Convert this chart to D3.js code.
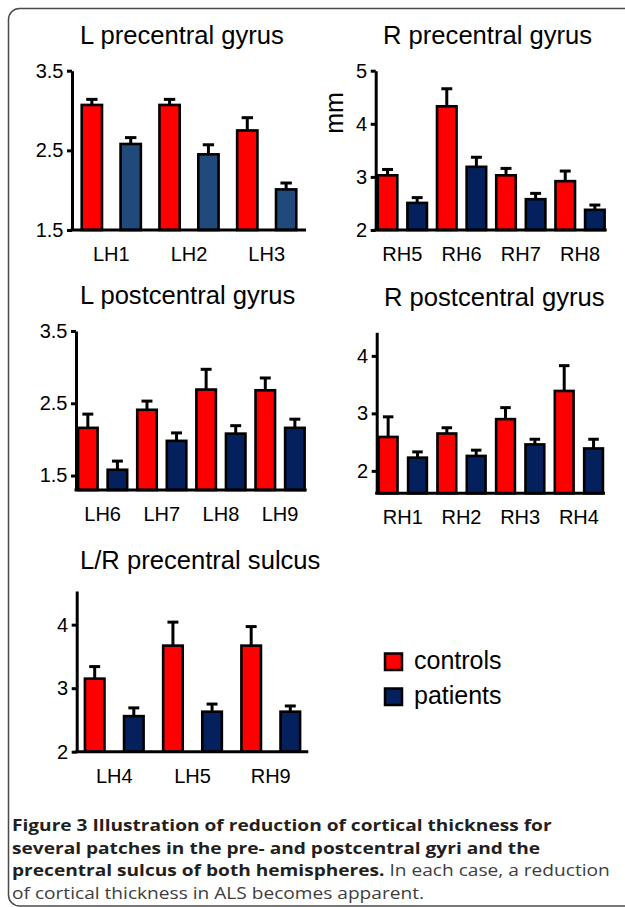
<!DOCTYPE html>
<html><head><meta charset="utf-8">
<script src="https://cdn.jsdelivr.net/npm/d3@7"></script>
<style>body{margin:0;background:#fff}svg{display:block}</style>
</head><body><svg id="c" width="625" height="907"></svg>
<script>
// ---------- data ----------
const lpreGroups = ["LH1","LH2","LH3"];
const lpreControls = [3.07,3.07,2.75];
const lpreControlsSem = [0.07,0.07,0.16];
const lprePatients = [2.58,2.45,2.01];
const lprePatientsSem = [0.08,0.12,0.08];
const lpreTicks = [1.5,2.5,3.5];

const rpreGroups = ["RH5","RH6","RH7","RH8"];
const rpreControls = [3.03,4.33,3.03,2.92];
const rpreControlsSem = [0.11,0.33,0.13,0.19];
const rprePatients = [2.51,3.19,2.58,2.38];
const rprePatientsSem = [0.10,0.18,0.11,0.09];
const rpreTicks = [2,3,4,5];

const lpostGroups = ["LH6","LH7","LH8","LH9"];
const lpostControls = [2.16,2.41,2.69,2.68];
const lpostControlsSem = [0.19,0.12,0.28,0.17];
const lpostPatients = [1.58,1.98,2.08,2.16];
const lpostPatientsSem = [0.12,0.11,0.11,0.12];
const lpostTicks = [1.5,2.5,3.5];

const rpostGroups = ["RH1","RH2","RH3","RH4"];
const rpostControls = [2.59,2.65,2.90,3.39];
const rpostControlsSem = [0.35,0.10,0.20,0.44];
const rpostPatients = [2.23,2.26,2.46,2.39];
const rpostPatientsSem = [0.10,0.10,0.09,0.16];
const rpostTicks = [2,3,4];

const sulcGroups = ["LH4","LH5","RH9"];
const sulcControls = [3.15,3.67,3.67];
const sulcControlsSem = [0.19,0.37,0.30];
const sulcPatients = [2.56,2.63,2.63];
const sulcPatientsSem = [0.13,0.12,0.09];
const sulcTicks = [2,3,4];

const legendLabels = ["controls","patients"];
const captionBold = ["Figure 3 Illustration of reduction of cortical thickness for",
  "several patches in the pre- and postcentral gyri and the",
  "precentral sulcus of both hemispheres."];
const captionRegular = [" In each case, a reduction", "of cortical thickness in ALS becomes apparent."];

// ---------- style ----------
const FONT = "'Liberation Sans', Arial, Helvetica, sans-serif";
const RED = "#ff0000";
const NAVY = "#04215e";
const STEEL = "#1f4a7b";

const svg = d3.select("#c");

// frame
svg.append("rect").attr("x",8.5).attr("y",8.5).attr("width",650).attr("height",897.5)
  .attr("rx",11).attr("fill","none").attr("stroke","#4a4a4a").attr("stroke-width",1.5);

const panels = [
  {title:"L precentral gyrus", tx:80, ty:44, groups:lpreGroups, controls:lpreControls, cSem:lpreControlsSem,
   patients:lprePatients, pSem:lprePatientsSem, ticks:lpreTicks, fmt:d3.format(".1f"),
   domain:[1.5,3.5], x0:72, x1:306, yB:230, yT:70.7, pi:0.478, po:0.25, navy:STEEL},
  {title:"R precentral gyrus", tx:383, ty:44, groups:rpreGroups, controls:rpreControls, cSem:rpreControlsSem,
   patients:rprePatients, pSem:rprePatientsSem, ticks:rpreTicks, fmt:d3.format("d"),
   domain:[2,5], x0:375.7, x1:606.7, yB:230, yT:70.7, pi:0.34, po:0.07, navy:NAVY, ylabel:"mm"},
  {title:"L postcentral gyrus", tx:80, ty:304, groups:lpostGroups, controls:lpostControls, cSem:lpostControlsSem,
   patients:lpostPatients, pSem:lpostPatientsSem, ticks:lpostTicks, fmt:d3.format(".1f"),
   domain:[1.30,3.5], x0:76, x1:306.7, yB:490, yT:331, pi:0.34, po:0.07, navy:NAVY},
  {title:"R postcentral gyrus", tx:384, ty:305.5, groups:rpostGroups, controls:rpostControls, cSem:rpostControlsSem,
   patients:rpostPatients, pSem:rpostPatientsSem, ticks:rpostTicks, fmt:d3.format("d"),
   domain:[1.61,4.41], x0:376.7, x1:605, yB:493.3, yT:332.3, pi:0.36, po:0.07, navy:NAVY},
  {title:"L/R precentral sulcus", tx:80, ty:569, groups:sulcGroups, controls:sulcControls, cSem:sulcControlsSem,
   patients:sulcPatients, pSem:sulcPatientsSem, ticks:sulcTicks, fmt:d3.format("d"),
   domain:[2,4.53], x0:76.7, x1:308.3, yB:751.7, yT:591, pi:0.5, po:0.21, navy:NAVY}
];

panels.forEach(p => {
  const g = svg.append("g");
  const bars = [];
  p.groups.forEach((gr,i) => {
    bars.push({key:gr+"|c", grp:gr, v:p.controls[i], e:p.cSem[i], fill:RED});
    bars.push({key:gr+"|p", grp:gr, v:p.patients[i], e:p.pSem[i], fill:p.navy});
  });
  const x = d3.scaleBand().domain(bars.map(d=>d.key)).range([p.x0,p.x1])
    .paddingInner(p.pi).paddingOuter(p.po);
  const y = d3.scaleLinear().domain(p.domain).range([p.yB,p.yT]);
  const bw = x.bandwidth(), cap = bw*0.56;

  // title
  g.append("text").text(p.title).attr("font-family",FONT).attr("font-size",25.6)
    .attr("x",p.tx).attr("y",p.ty).attr("fill","#000");

  // bars
  g.selectAll("rect.bar").data(bars).join("rect").attr("class","bar")
    .attr("x",d=>x(d.key)).attr("y",d=>y(d.v)).attr("width",bw)
    .attr("height",d=>y(p.domain[0])-y(d.v))
    .attr("fill",d=>d.fill).attr("stroke","#000").attr("stroke-width",2.6);

  // error bars (upper)
  g.selectAll("line.ev").data(bars).join("line").attr("class","ev")
    .attr("x1",d=>x(d.key)+bw/2).attr("x2",d=>x(d.key)+bw/2)
    .attr("y1",d=>y(d.v)).attr("y2",d=>y(d.v+d.e))
    .attr("stroke","#000").attr("stroke-width",3);
  g.selectAll("line.ec").data(bars).join("line").attr("class","ec")
    .attr("x1",d=>x(d.key)+bw/2-cap/2).attr("x2",d=>x(d.key)+bw/2+cap/2)
    .attr("y1",d=>y(d.v+d.e)).attr("y2",d=>y(d.v+d.e))
    .attr("stroke","#000").attr("stroke-width",3);

  // y axis
  const ax = d3.axisLeft(y).tickValues(p.ticks).tickFormat(p.fmt)
    .tickSize(5).tickSizeOuter(0).tickPadding(3.5);
  const ag = g.append("g").attr("transform",`translate(${p.x0},0)`).call(ax);
  ag.select(".domain").attr("stroke","#000").attr("stroke-width",3);
  ag.selectAll(".tick line").attr("stroke","#000").attr("stroke-width",3);
  ag.selectAll(".tick text").attr("font-family",FONT).attr("font-size",20).attr("fill","#000");

  // x axis line
  g.append("line").attr("x1",p.x0-1.5).attr("x2",p.x1)
    .attr("y1",y(p.domain[0])).attr("y2",y(p.domain[0]))
    .attr("stroke","#000").attr("stroke-width",3);

  // category labels, centred on each pair
  g.selectAll("text.cat").data(p.groups).join("text").attr("class","cat")
    .text(d=>d).attr("font-family",FONT).attr("font-size",20).attr("text-anchor","middle")
    .attr("x",d=>(x(d+"|c") + x(d+"|p") + bw)/2)
    .attr("y",y(p.domain[0])+31);

  if (p.ylabel) {
    g.append("text").text(p.ylabel).attr("font-family",FONT).attr("font-size",25)
      .attr("text-anchor","middle").attr("dominant-baseline","central")
      .attr("transform",`translate(334,113) rotate(-90)`);
  }
});

// legend
const legColors = [RED, NAVY];
const lg = svg.append("g");
legendLabels.forEach((lab,i) => {
  lg.append("rect").attr("x",385).attr("y",653.5+i*35).attr("width",17).attr("height",16.5)
    .attr("fill",legColors[i]).attr("stroke","#000").attr("stroke-width",2.5);
  lg.append("text").text(lab).attr("font-family",FONT).attr("font-size",25)
    .attr("x",414).attr("y",669+i*35);
});

// caption: fit width so that line 3 spans the measured width, then
// reduce glyph height slightly (width kept through textLength)
const CF = "'Open Sans', 'Noto Sans', sans-serif";
const cap = svg.append("g").attr("font-family",CF).attr("font-size",18);
const capBase = [831, 853.5, 876, 898.5];
const lines = [];
captionBold.forEach((t,i) => {
  const tx = cap.append("text").attr("x",12).attr("y",capBase[i]);
  tx.append("tspan").text(t).attr("font-weight",700).attr("fill","#231f20");
  if (i===2) tx.append("tspan").text(captionRegular[0]).attr("fill","#3d3d3d");
  lines.push(tx);
});
lines.push(cap.append("text").attr("x",12).attr("y",capBase[3]).attr("fill","#3d3d3d").text(captionRegular[1]));
const fit = 18 * (598 / lines[2].node().getComputedTextLength());
cap.attr("font-size", fit);
const widths = lines.map(l => l.node().getComputedTextLength());
cap.attr("font-size", 16.4);
lines.forEach((l,i) => l.attr("textLength", widths[i]).attr("lengthAdjust","spacingAndGlyphs"));
</script></body></html>
